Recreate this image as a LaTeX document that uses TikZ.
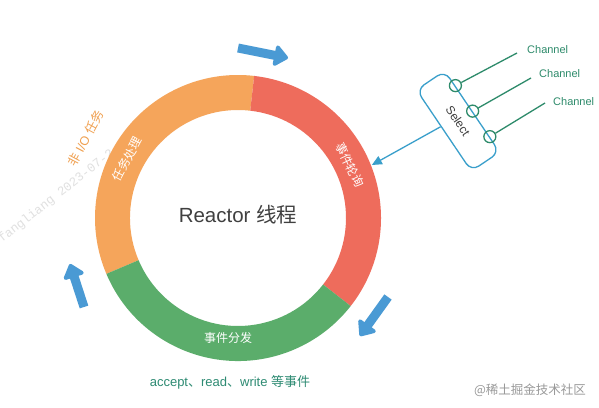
\documentclass[tikz,border=0pt]{standalone}
\usepackage{fontspec}
\setmainfont{Liberation Sans}
\newfontfamily\cjk{Noto Sans CJK SC}
\newfontfamily\wmfont{Liberation Mono}
\usetikzlibrary{arrows.meta,calc}
\definecolor{ringorange}{HTML}{F5A55B}
\definecolor{ringred}{HTML}{EE6C5C}
\definecolor{ringgreen}{HTML}{5BAD6B}
\definecolor{arrowblue}{HTML}{4A9AD4}
\definecolor{selblue}{HTML}{3A9FCB}
\definecolor{changreen}{HTML}{2E8B6B}
\definecolor{acctext}{HTML}{2E8B73}
\definecolor{titlegray}{HTML}{404040}
\definecolor{outorange}{HTML}{F0A050}
\begin{document}
\begin{tikzpicture}[x=1pt,y=1pt,
  bigarrow/.style={draw=arrowblue, line width=9pt, -{Triangle[length=15pt,width=24pt,round]}},
  selbox/.style={draw=selblue, line width=1.3pt, rounded corners=9pt, minimum width=98pt, minimum height=34pt, inner sep=0pt, text=titlegray, font=\fontsize{12}{14}\selectfont},
  chancirc/.style={circle, draw=changreen, line width=1.3pt, minimum size=12pt, inner sep=0pt},
  chanline/.style={draw=changreen, line width=1.3pt},
  chanlabel/.style={anchor=west, inner sep=0pt, text=changreen, font=\fontsize{11}{13}\selectfont},
  ringtext/.style={text=white, inner sep=0pt, font=\cjk\fontsize{12}{14}\selectfont},
  outtext/.style={text=outorange, inner sep=0pt, font=\fontsize{12.5}{14}\selectfont},
  acclabel/.style={text=acctext, inner sep=0pt, font=\fontsize{13}{15}\selectfont},
  selarrow/.style={draw=selblue, line width=1.3pt, -{Triangle[length=10pt,width=9pt]}}
]
\useasboundingbox (0,0) rectangle (599,407);
\fill[white] (0,0) rectangle (599,407);

% faint watermark behind the ring
\node[anchor=base west, inner sep=0pt, rotate=38, text=black!12, font=\wmfont\fontsize{12.5}{14}\selectfont] (wm1) at (2,164) {fangliang 2023-07-2};

\coordinate (c) at (238,189);
% ring segments
\fill[ringorange] ($(c)+(83.5:143pt)$) arc[start angle=83.5,end angle=203,radius=143pt]
   -- ($(c)+(203:108pt)$) arc[start angle=203,end angle=83.5,radius=108pt] -- cycle;
\fill[ringred] ($(c)+(-38:143pt)$) arc[start angle=-38,end angle=83.5,radius=143pt]
   -- ($(c)+(83.5:108pt)$) arc[start angle=83.5,end angle=-38,radius=108pt] -- cycle;
\fill[ringgreen] ($(c)+(203:143pt)$) arc[start angle=203,end angle=322,radius=143pt]
   -- ($(c)+(322:108pt)$) arc[start angle=322,end angle=203,radius=108pt] -- cycle;

% ring labels
\node[ringtext, rotate=62] (t1) at ($(c)+(152:125.5pt)$) {任务处理};
\node[ringtext, rotate=-64.7] (t2) at ($(c)+(25.3:124pt)$) {事件轮询};
\node[ringtext] (t3) at (228,69) {事件分发};
\node[outtext, rotate=62] (t4) at ($(c)+(152.4:172pt)$) {{\cjk 非} I/O {\cjk 任务}};
\node[text=titlegray, inner sep=0pt, font=\fontsize{20.5}{24}\selectfont] (title) at (238,192) {Reactor {\cjk 线程}};
\node[acclabel] (acc) at (230,25) {accept{\cjk 、}read{\cjk 、}write {\cjk 等事件}};

% blue direction arrows
\coordinate (a1s) at (238,359); \coordinate (a1e) at (288,349);
\coordinate (a2s) at (388,110); \coordinate (a2e) at (360,71);
\coordinate (a3s) at (84,100);  \coordinate (a3e) at (70,143);
\draw[bigarrow] (a1s) -- (a1e);
\draw[bigarrow] (a2s) -- (a2e);
\draw[bigarrow] (a3s) -- (a3e);

% Select box and channels
\node[selbox, rotate=-56] (sel) at (458,286) {Select};
\node[chancirc] (k1) at ($(sel.north west)!0.19!(sel.north east)$) {};
\node[chancirc] (k2) at ($(sel.north west)!0.5!(sel.north east)$) {};
\node[chancirc] (k3) at ($(sel.north west)!0.81!(sel.north east)$) {};
\coordinate (e1) at (517,354);
\coordinate (e2) at (531,329);
\coordinate (e3) at (545,304);
\draw[chanline] (k1) -- (e1);
\draw[chanline] (k2) -- (e2);
\draw[chanline] (k3) -- (e3);
\node[chanlabel] (l1) at (527,357) {Channel};
\node[chanlabel] (l2) at (539,333) {Channel};
\node[chanlabel] (l3) at (553,305) {Channel};

\coordinate (tip) at ($(c)+(21.6:144pt)$);
\draw[selarrow] ($(sel.south west)!0.45!(sel.south east)$) -- (tip);

% site watermark
\node[text=black!40, inner sep=0pt, font=\cjk\fontsize{12.5}{14}\selectfont] (wm2) at (530,17) {@稀土掘金技术社区};
\end{tikzpicture}
\end{document}
